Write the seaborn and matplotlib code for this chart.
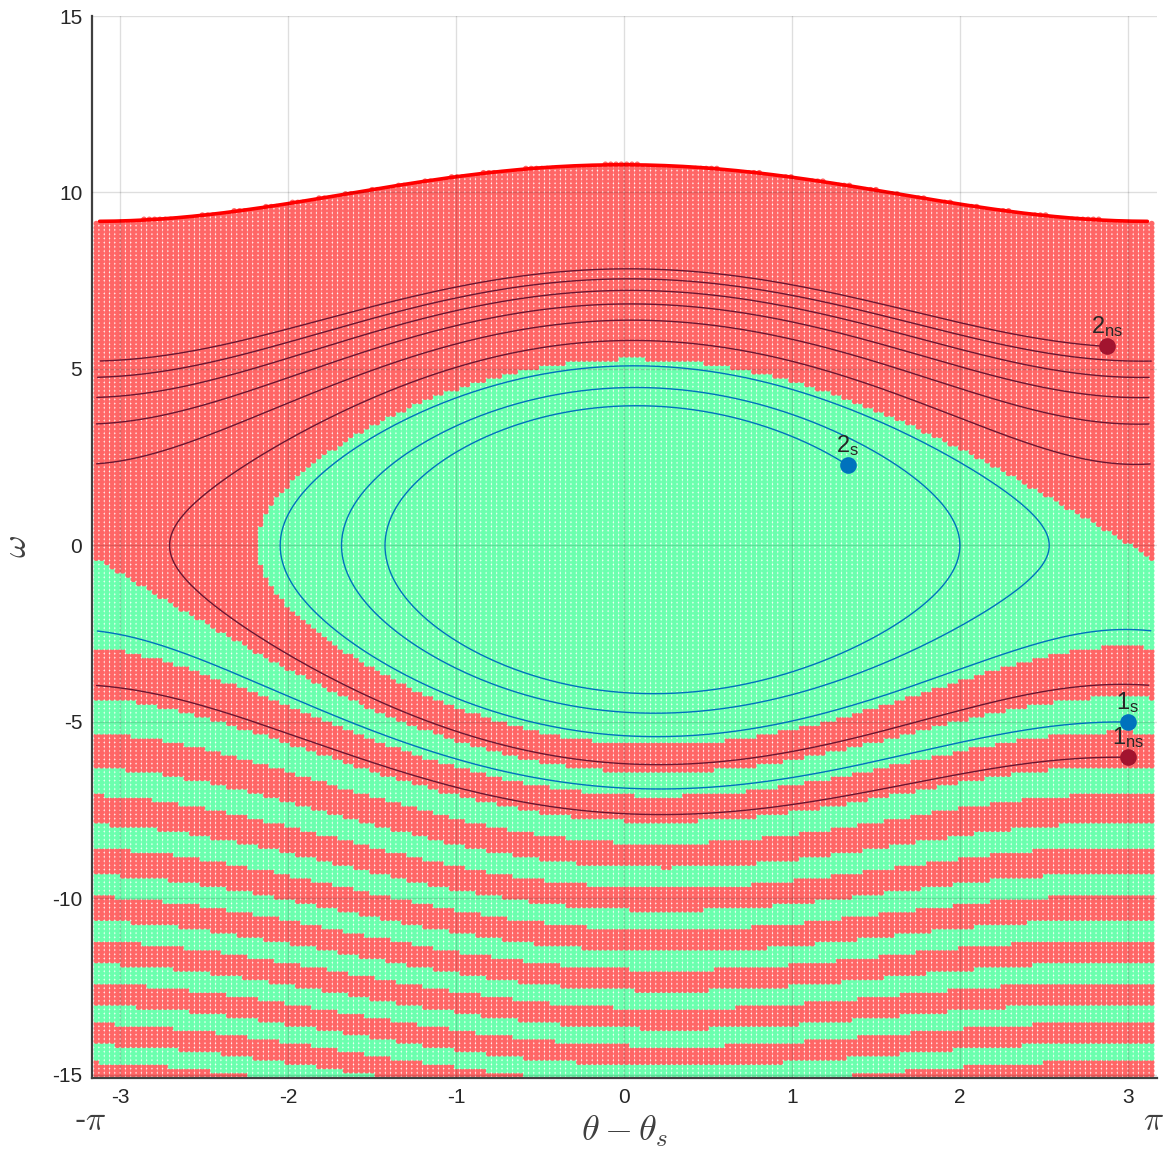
import math
import numpy as np
import pandas as pd
import matplotlib
matplotlib.use("Agg")
import matplotlib.pyplot as plt
import seaborn as sns

# ---------------- data ----------------
# single-node swing equation: theta' = omega, omega' = P - alpha*omega - K sin(theta)
P_IN = 1.0          # limit cycle sits at omega ~ P/alpha = 10
ALPHA = 0.1
K_COUP = 8.0        # limit cycle amplitude ~ K/10 = 0.8
THETA_OFFSET = 0.0  # horizontal placement of the stable point as drawn
N_THETA = 200
N_OMEGA = 251
OMEGA_MIN, OMEGA_MAX = -15.0, 15.0

point_labels = ["1_s", "1_{ns}", "2_s", "2_{ns}"]
point_theta = [3.0, 3.0, 1.333, 2.875]
point_omega = [-5.0, -6.0, 2.27, 5.64]
point_colors = ["#0072BD", "#A2142F", "#0072BD", "#A2142F"]
line_colors = {"s": "#0072BD", "ns": "#6B1530"}

x_ticks = [-3, -2, -1, 0, 1, 2, 3]
y_ticks = [-15, -10, -5, 0, 5, 10, 15]

RED = "#FF6666"
GREEN = "#6BFFAE"


def rhs(x, w):
    return w, P_IN - ALPHA * w - K_COUP * np.sin(x + THETA_OFFSET)


def rk4(x, w, dt):
    k1x, k1w = rhs(x, w)
    k2x, k2w = rhs(x + 0.5 * dt * k1x, w + 0.5 * dt * k1w)
    k3x, k3w = rhs(x + 0.5 * dt * k2x, w + 0.5 * dt * k2w)
    k4x, k4w = rhs(x + dt * k3x, w + dt * k3w)
    return (x + dt / 6 * (k1x + 2 * k2x + 2 * k3x + k4x),
            w + dt / 6 * (k1w + 2 * k2w + 2 * k3w + k4w))


def wrap(x):
    return (x + np.pi) % (2 * np.pi) - np.pi


# ---------------- limit cycle ----------------
x, w = 0.0, 10.0
dt = 0.005
for _ in range(40000):
    x, w = rk4(x, w, dt)
lc_x, lc_w = [], []
x0 = x
while x - x0 < 2 * np.pi + 0.05:
    lc_x.append(x)
    lc_w.append(w)
    x, w = rk4(x, w, dt)
lc_x = wrap(np.array(lc_x))
lc_w = np.array(lc_w)
order = np.argsort(lc_x)
lc_x, lc_w = lc_x[order], lc_w[order]


def lc_at(xq):
    return np.interp(xq, np.concatenate([lc_x - 2 * np.pi, lc_x, lc_x + 2 * np.pi]),
                     np.concatenate([lc_w, lc_w, lc_w]))


# ---------------- basin of attraction ----------------
th_grid = np.linspace(-np.pi, np.pi, N_THETA)
om_grid = np.linspace(OMEGA_MIN, OMEGA_MAX, N_OMEGA)
TH, OM = np.meshgrid(th_grid, om_grid)
TH, OM = TH.ravel(), OM.ravel()
keep = OM <= lc_at(TH) + 0.02
TH, OM = TH[keep], OM[keep]

xb, wb = TH.copy(), OM.copy()
dtb = 0.02
for _ in range(int(80 / dtb)):
    xb, wb = rk4(xb, wb, dtb)
state = np.where(wb > 3.0, "ns", "s")
basin = pd.DataFrame({"theta": TH, "omega": OM, "state": state})


# ---------------- trajectories 1 -> 2 ----------------
def trajectory(x0, w0, x_end, w_end, tmax=60.0, dt=0.005):
    xs, ws = [x0], [w0]
    x, w = x0, w0
    for _ in range(int(tmax / dt)):
        x, w = rk4(x, w, dt)
        xs.append(x)
        ws.append(w)
    xs, ws = np.array(xs), np.array(ws)
    d = np.hypot(wrap(xs - x_end), ws - w_end)
    d[:200] = np.inf
    i = int(np.argmin(d))
    xs, ws = wrap(xs[:i + 1]), ws[:i + 1]
    jumps = np.where(np.abs(np.diff(xs)) > np.pi)[0]
    xs = np.insert(xs, jumps + 1, np.nan)
    ws = np.insert(ws, jumps + 1, np.nan)
    return xs, ws


traj_s = trajectory(point_theta[0], point_omega[0], point_theta[2], point_omega[2])
traj_ns = trajectory(point_theta[1], point_omega[1], point_theta[3], point_omega[3])

# ---------------- drawing ----------------
sns.set_style("white")
plt.rcParams["font.family"] = ["Liberation Sans", "DejaVu Sans"]
plt.rcParams["mathtext.fontset"] = "cm"

fig = plt.figure(figsize=(11.72, 11.54), dpi=100)
ax = fig.add_axes([92 / 1172, 1 - 1078 / 1154, (1157 - 92) / 1172, (1078 - 16) / 1154])

sns.scatterplot(data=basin, x="theta", y="omega", hue="state",
                palette={"s": GREEN, "ns": RED}, marker="o", s=16,
                linewidth=0, legend=False, ax=ax, zorder=1)

ax.plot(lc_x, lc_w, color="#FF0000", lw=2.6, zorder=2, solid_capstyle="round")

ax.plot(*traj_s, color=line_colors["s"], lw=1.0, zorder=3)
ax.plot(*traj_ns, color=line_colors["ns"], lw=1.0, zorder=3)

for lab, px, py, c in zip(point_labels, point_theta, point_omega, point_colors):
    ax.plot(px, py, "o", color=c, ms=12, zorder=4, markeredgewidth=0)
    ax.annotate(r"$\mathregular{" + lab + "}$", (px, py), xytext=(0, 5),
                textcoords="offset points", ha="center", va="bottom",
                fontsize=17, color="#262626", zorder=5)

ax.set_xlim(-3.167, 3.173)
ax.set_ylim(-15.085, 15.0)
ax.set_xticks(x_ticks)
ax.set_yticks(y_ticks)
ax.set_xticklabels([str(v) for v in x_ticks])
ax.set_yticklabels([str(v) for v in y_ticks])
ax.set_axisbelow(False)
ax.grid(True, color="black", alpha=0.13, lw=1.0)
for side in ["top", "right"]:
    ax.spines[side].set_visible(False)
for side in ["left", "bottom"]:
    ax.spines[side].set_color("#404040")
    ax.spines[side].set_linewidth(1.6)
ax.tick_params(direction="in", length=7.5, width=1.5, color="#404040",
               labelsize=15, labelcolor="#262626", pad=7)
ax.set_xlabel(r"$\theta - \theta_s$", fontsize=26, color="#404040", labelpad=5)
ax.set_ylabel(r"$\omega$", fontsize=25, color="#404040", labelpad=14)

fig.text(90 / 1172, 1 - 1122 / 1154, r"-$\pi$", fontsize=24, color="#404040",
         ha="center", va="center")
fig.text(1153 / 1172, 1 - 1121 / 1154, r"$\pi$", fontsize=24, color="#404040",
         ha="center", va="center")

fig.savefig("out.png", dpi=100, facecolor="white")
